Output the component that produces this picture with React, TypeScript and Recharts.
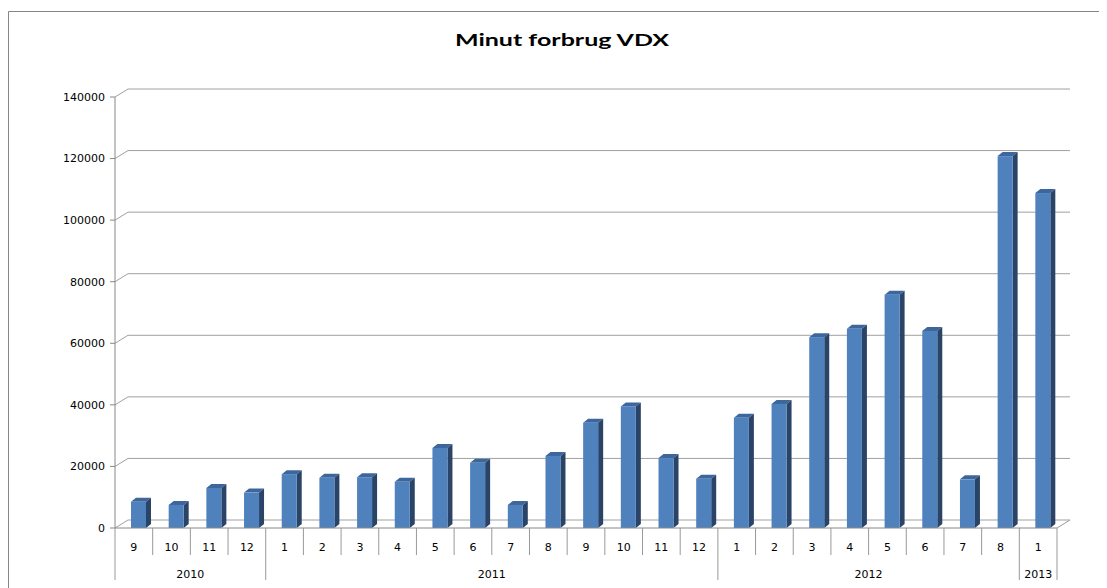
import { BarChart, Bar, XAxis, YAxis, CartesianGrid } from 'recharts';

// Months shown on the category axis, with the year each belongs to
const months = ['9', '10', '11', '12', '1', '2', '3', '4', '5', '6', '7', '8', '9', '10', '11', '12', '1', '2', '3', '4', '5', '6', '7', '8', '1'];
const years = ['2010', '2010', '2010', '2010', '2011', '2011', '2011', '2011', '2011', '2011', '2011', '2011', '2011', '2011', '2011', '2011', '2012', '2012', '2012', '2012', '2012', '2012', '2012', '2012', '2013'];
const minutes = [8500, 7500, 13000, 11500, 17500, 16300, 16500, 15000, 26000, 21200, 7500, 23400, 34200, 39500, 22700, 16000, 35800, 40300, 62000, 64700, 75800, 64000, 15800, 120800, 108800];
const yTicks = [0, 20000, 40000, 60000, 80000, 100000, 120000, 140000];

const data = months.map((m, i) => ({ key: i, month: m, year: years[i], minutes: minutes[i] }));

const W = 1099;
const H = 580;
const DEPTH_X = 13;
const DEPTH_Y = -8;
const FONT = '"DejaVu Sans", Verdana, sans-serif';

// back wall gridline with the short diagonal on the side wall
const GridLine = (props: any) => {
  const { x1, x2, y1, index } = props;
  const y = y1;
  if (y1 == null) return null;
  const isFloor = index === 0 || Math.abs(y - (H - 60)) < 1;
  return (
    <g key={`g${index}`}>
      <path
        d={`M${x1},${y} L${x1 + DEPTH_X},${y + DEPTH_Y} L${x2 + DEPTH_X},${y + DEPTH_Y}`}
        fill="none"
        stroke="#a0a0a0"
        strokeWidth={1}
      />
      {isFloor && (
        <path d={`M${x2},${y} L${x2 + DEPTH_X},${y + DEPTH_Y}`} fill="none" stroke="#999" strokeWidth={1} />
      )}
    </g>
  );
};

// 3D column: front face, dark side, top
const Bar3D = (props: any) => {
  const { x, y, width, height } = props;
  if (height == null || height <= 0) return null;
  const sx = x + 5;
  const dx = 5;
  const dy = -4;
  return (
    <g>
      <polygon
        points={`${sx},${y} ${sx + dx},${y + dy} ${sx + width + dx},${y + dy} ${sx + width},${y}`}
        fill="#3d679c"
      />
      <polygon
        points={`${sx + width},${y} ${sx + width + dx},${y + dy} ${sx + width + dx},${y + height + dy} ${sx + width},${y + height}`}
        fill="#2a4468"
      />
      <rect x={sx} y={y} width={width} height={height} fill="#4f81bd" />
    </g>
  );
};

// two level category axis: month on top, year groups below
const MonthTick = (props: any) => {
  const { x, y, payload } = props;
  const i = payload.index;
  const band = payload.offset ? payload.offset * 2 : 942 / months.length;
  const left = x - band / 2;
  const newYear = i === 0 || years[i] !== years[i - 1];
  const last = i === months.length - 1;
  let groupSize = 0;
  if (newYear) {
    let j = i;
    while (j < years.length && years[j] === years[i]) {
      groupSize++;
      j++;
    }
  }
  const base = y - 8;
  return (
    <g>
      <line x1={left} y1={base} x2={left} y2={base + (newYear ? 52 : 27)} stroke="#999" />
      {last && <line x1={left + band} y1={base} x2={left + band} y2={base + 52} stroke="#999" />}
      <text x={x} y={base + 23} textAnchor="middle" fontSize={11} fontFamily={FONT} fill="#000">
        {payload.value}
      </text>
      {newYear && (
        <text x={left + (groupSize * band) / 2} y={base + 50} textAnchor="middle" fontSize={11} fontFamily={FONT} fill="#000">
          {years[i]}
        </text>
      )}
    </g>
  );
};

export default function App() {
  return (
    <div style={{ width: W, height: H, position: 'relative', background: '#fff' }}>
      <svg width={W} height={H} style={{ position: 'absolute', left: 0, top: 0 }}>
        <path d={`M0.5,${H} L0.5,3.5 L${W},3.5`} fill="none" stroke="#868686" strokeWidth={1} />
      </svg>
      <div
        style={{
          position: 'absolute',
          left: 354,
          top: 22.5,
          width: 400,
          textAlign: 'center',
          fontFamily: 'Lato, "Open Sans", sans-serif',
          fontWeight: 'bold',
          fontSize: 17,
          color: '#000',
          lineHeight: '17px',
          transform: 'scaleX(1.47)',
        }}
      >
        Minut forbrug VDX
      </div>
      <div style={{ position: 'absolute', left: 0, top: 0 }}>
        <BarChart width={W} height={H} data={data} margin={{ top: 89, right: 50, bottom: 10, left: 47 }}>
          <CartesianGrid vertical={false} horizontal={GridLine as any} />
          <XAxis
            dataKey="month"
            interval={0}
            tickLine={false}
            axisLine={{ stroke: '#888' }}
            tick={<MonthTick />}
            height={50}
          />
          <YAxis
            domain={[0, 140000]}
            ticks={yTicks}
            width={60}
            tickSize={5}
            tickMargin={5}
            axisLine={{ stroke: '#888' }}
            tickLine={{ stroke: '#888' }}
            tick={{ fontSize: 11, fontFamily: FONT, fill: '#000' }}
          />
          <Bar dataKey="minutes" barSize={15} shape={<Bar3D />} isAnimationActive={false} />
        </BarChart>
      </div>
    </div>
  );
}
